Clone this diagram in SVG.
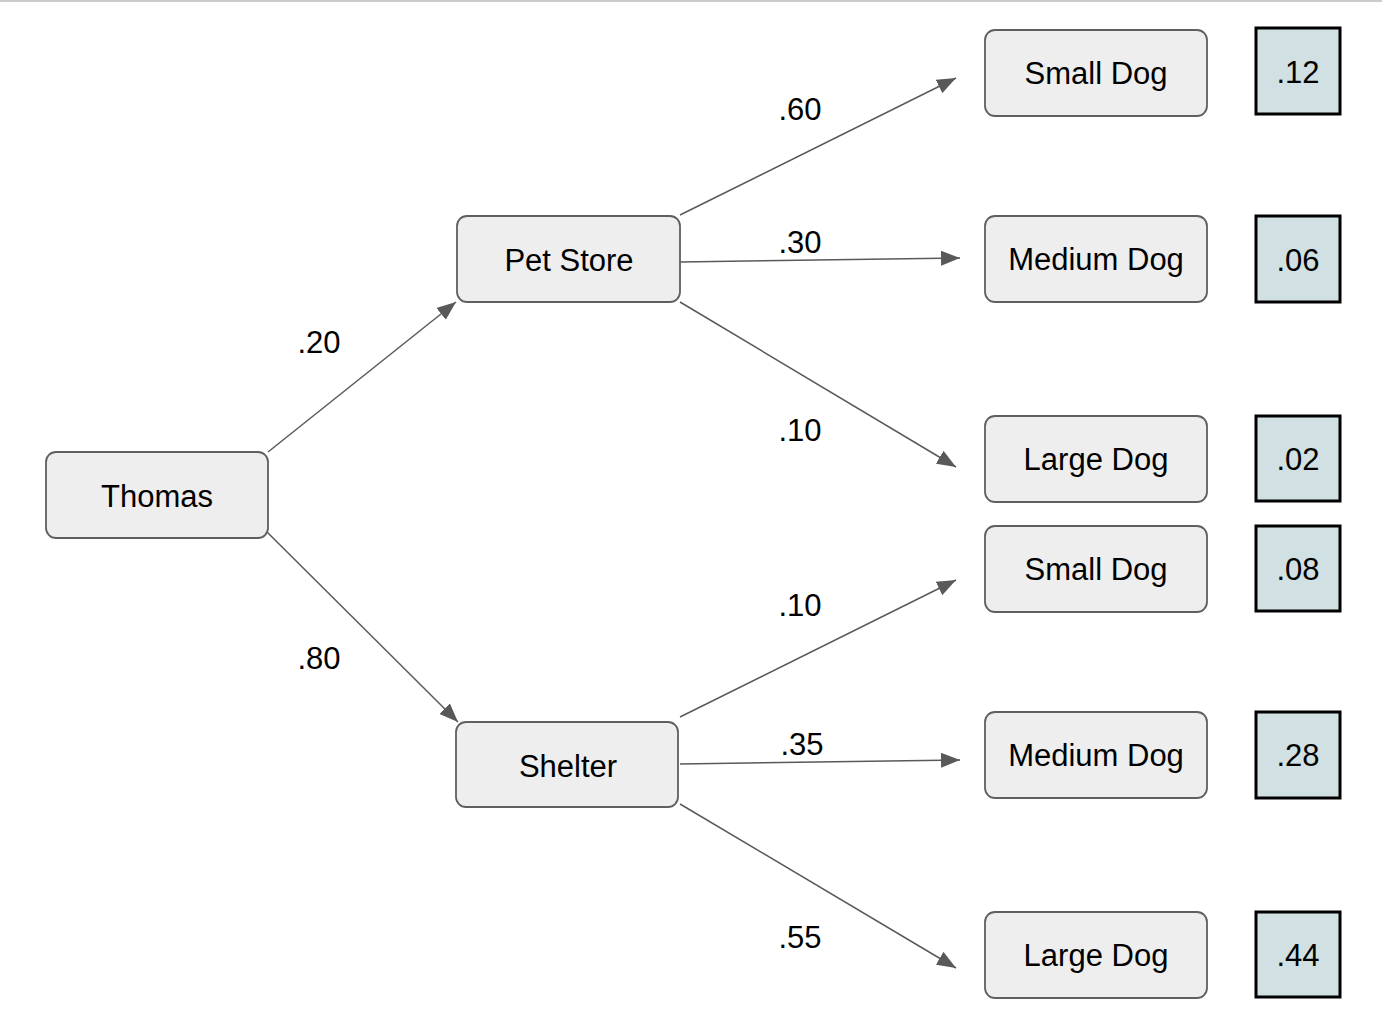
<svg xmlns="http://www.w3.org/2000/svg" width="1382" height="1028" viewBox="0 0 1382 1028">
<style>
.n rect{fill:#eeeeee;stroke:#5f5f5f;stroke-width:1.8}
.r rect{fill:#d0e0e3;stroke:#000000;stroke-width:3}
text{font-family:"Liberation Sans",Arial,sans-serif;font-size:31px;fill:#000000;text-anchor:middle}
.c line{stroke:#595959;stroke-width:1.5;fill:none;marker-end:url(#ah)}
</style>
<defs>
<marker id="ah" markerUnits="userSpaceOnUse" markerWidth="21" markerHeight="15" refX="19" refY="7.5" orient="auto">
<path d="M0,0 L19,7.5 L0,15 Z" fill="#595959"/>
</marker>
</defs>
<rect x="0" y="0" width="1382" height="2" fill="#cccccc"/>
<g class="c" id="connectors">
<line x1="268" y1="452" x2="456" y2="302"/>
<line x1="267" y1="532" x2="458" y2="722"/>
<line x1="680" y1="215" x2="956" y2="78"/>
<line x1="680" y1="262" x2="960" y2="258"/>
<line x1="680" y1="302" x2="956" y2="467"/>
<line x1="680" y1="717" x2="956" y2="580"/>
<line x1="680" y1="764" x2="960" y2="760"/>
<line x1="680" y1="804" x2="956" y2="968"/>
</g>
<g id="labels">
<text x="319" y="353">.20</text>
<text x="319" y="669">.80</text>
<text x="800" y="120">.60</text>
<text x="800" y="253">.30</text>
<text x="800" y="441">.10</text>
<text x="800" y="616">.10</text>
<text x="802" y="755">.35</text>
<text x="800" y="948">.55</text>
</g>
<g class="n" id="thomas"><rect x="46" y="452" width="222" height="86" rx="10"/><text x="157" y="507">Thomas</text></g>
<g class="n" id="petstore"><rect x="457" y="216" width="223" height="86" rx="10"/><text x="569" y="271">Pet Store</text></g>
<g class="n" id="shelter"><rect x="456" y="722" width="222" height="85" rx="10"/><text x="568" y="777">Shelter</text></g>
<g class="n" id="ps-small"><rect x="985" y="30" width="222" height="86" rx="10"/><text x="1096" y="84">Small Dog</text></g>
<g class="n" id="ps-medium"><rect x="985" y="216" width="222" height="86" rx="10"/><text x="1096" y="270">Medium Dog</text></g>
<g class="n" id="ps-large"><rect x="985" y="416" width="222" height="86" rx="10"/><text x="1096" y="470">Large Dog</text></g>
<g class="n" id="sh-small"><rect x="985" y="526" width="222" height="86" rx="10"/><text x="1096" y="580">Small Dog</text></g>
<g class="n" id="sh-medium"><rect x="985" y="712" width="222" height="86" rx="10"/><text x="1096" y="766">Medium Dog</text></g>
<g class="n" id="sh-large"><rect x="985" y="912" width="222" height="86" rx="10"/><text x="1096" y="966">Large Dog</text></g>
<g class="r" id="r1"><rect x="1256" y="28" width="84" height="86"/><text x="1298" y="83">.12</text></g>
<g class="r" id="r2"><rect x="1256" y="216" width="84" height="86"/><text x="1298" y="271">.06</text></g>
<g class="r" id="r3"><rect x="1256" y="416" width="84" height="85"/><text x="1298" y="470">.02</text></g>
<g class="r" id="r4"><rect x="1256" y="526" width="84" height="85"/><text x="1298" y="580">.08</text></g>
<g class="r" id="r5"><rect x="1256" y="712" width="84" height="86"/><text x="1298" y="766">.28</text></g>
<g class="r" id="r6"><rect x="1256" y="912" width="84" height="85"/><text x="1298" y="966">.44</text></g>
</svg>
